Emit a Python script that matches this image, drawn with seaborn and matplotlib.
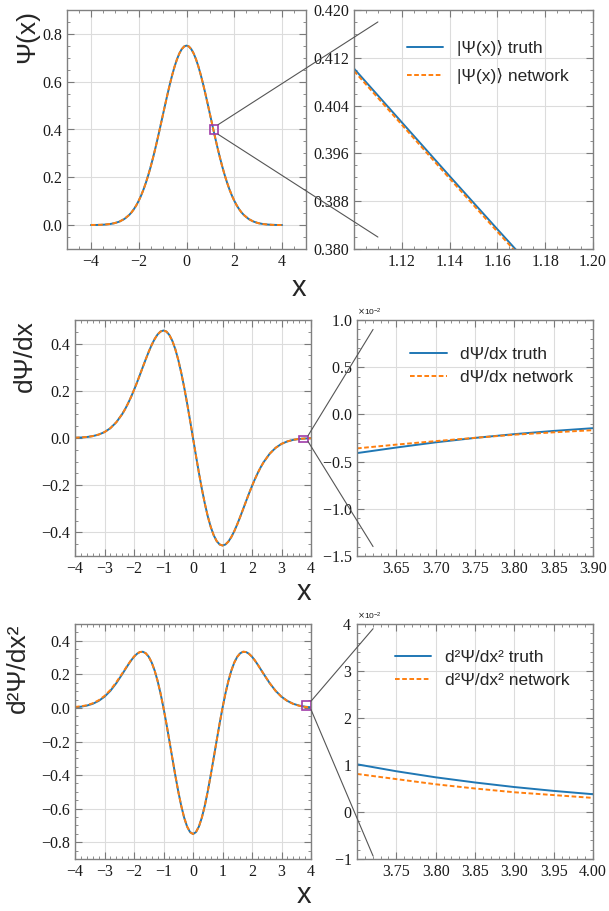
import matplotlib
matplotlib.use("Agg")
import matplotlib.pyplot as plt
from matplotlib.patches import Rectangle, ConnectionPatch
from matplotlib.ticker import MultipleLocator, FixedLocator, ScalarFormatter, FormatStrFormatter
import seaborn as sns

# ── full-range curves ────────────────────────────────────────────────────
x_full = [-4.0, -3.8, -3.6, -3.4, -3.2, -3.0, -2.8, -2.6,
          -2.4, -2.3, -2.2, -2.1, -2.0, -1.9, -1.8, -1.7, -1.6, -1.5, -1.4, -1.3,
          -1.2, -1.1, -1.0, -0.9, -0.8, -0.7, -0.6, -0.5, -0.4, -0.3, -0.2, -0.1,
          0.0,
          0.1, 0.2, 0.3, 0.4, 0.5, 0.6, 0.7, 0.8, 0.9, 1.0, 1.1, 1.2,
          1.3, 1.4, 1.5, 1.6, 1.7, 1.8, 1.9, 2.0, 2.1, 2.2, 2.3, 2.4,
          2.6, 2.8, 3.0, 3.2, 3.4, 3.6, 3.8, 4.0]

psi_truth = [0.0003, 0.0005, 0.0011, 0.0023, 0.0045, 0.0083, 0.0149, 0.0256,
             0.0422, 0.0533, 0.0668, 0.0828, 0.1017, 0.1235, 0.1486, 0.1771, 0.2088, 0.2438, 0.2819, 0.3226,
             0.3657, 0.4102, 0.4556, 0.5010, 0.5454, 0.5879, 0.6274, 0.6629, 0.6933, 0.7181, 0.7362, 0.7474,
             0.7511,
             0.7474, 0.7362, 0.7181, 0.6933, 0.6629, 0.6274, 0.5879, 0.5454, 0.5010, 0.4556, 0.4102, 0.3657,
             0.3226, 0.2819, 0.2438, 0.2088, 0.1771, 0.1486, 0.1235, 0.1017, 0.0828, 0.0668, 0.0533, 0.0422,
             0.0256, 0.0149, 0.0083, 0.0045, 0.0023, 0.0011, 0.0005, 0.0003]
psi_network = [0.0006, 0.0008, 0.0013, 0.0025, 0.0047, 0.0085, 0.0150, 0.0257,
               0.0423, 0.0533, 0.0668, 0.0828, 0.1017, 0.1235, 0.1486, 0.1771, 0.2088, 0.2438, 0.2819, 0.3226,
               0.3657, 0.4102, 0.4555, 0.5009, 0.5453, 0.5878, 0.6273, 0.6628, 0.6932, 0.7180, 0.7361, 0.7473,
               0.7510,
               0.7473, 0.7361, 0.7180, 0.6932, 0.6628, 0.6273, 0.5878, 0.5453, 0.5008, 0.4553, 0.4098, 0.3653,
               0.3223, 0.2816, 0.2436, 0.2086, 0.1770, 0.1485, 0.1234, 0.1016, 0.0827, 0.0667, 0.0532, 0.0421,
               0.0255, 0.0148, 0.0082, 0.0044, 0.0022, 0.0010, 0.0004, 0.0002]

dpsi_truth = [0.0010, 0.0021, 0.0041, 0.0079, 0.0144, 0.0249, 0.0417, 0.0666,
              0.1013, 0.1226, 0.1470, 0.1739, 0.2034, 0.2347, 0.2675, 0.3011, 0.3341, 0.3657, 0.3947, 0.4194,
              0.4388, 0.4512, 0.4556, 0.4509, 0.4363, 0.4115, 0.3764, 0.3315, 0.2773, 0.2154, 0.1472, 0.0747,
              0.0,
              -0.0747, -0.1472, -0.2154, -0.2773, -0.3315, -0.3764, -0.4115, -0.4363, -0.4509, -0.4556, -0.4512, -0.4388,
              -0.4194, -0.3947, -0.3657, -0.3341, -0.3011, -0.2675, -0.2347, -0.2034, -0.1739, -0.1470, -0.1226, -0.1013,
              -0.0666, -0.0417, -0.0249, -0.0144, -0.0079, -0.0041, -0.0021, -0.0010]
dpsi_network = [0.0013, 0.0024, 0.0043, 0.0080, 0.0145, 0.0250, 0.0418, 0.0667,
                0.1013, 0.1226, 0.1470, 0.1739, 0.2034, 0.2347, 0.2675, 0.3011, 0.3341, 0.3657, 0.3947, 0.4194,
                0.4388, 0.4512, 0.4556, 0.4509, 0.4363, 0.4115, 0.3764, 0.3315, 0.2773, 0.2154, 0.1472, 0.0747,
                0.0,
                -0.0747, -0.1472, -0.2154, -0.2773, -0.3315, -0.3764, -0.4115, -0.4363, -0.4509, -0.4556, -0.4512, -0.4388,
                -0.4194, -0.3947, -0.3657, -0.3341, -0.3011, -0.2675, -0.2347, -0.2034, -0.1739, -0.1470, -0.1226, -0.1013,
                -0.0666, -0.0417, -0.0249, -0.0143, -0.0078, -0.0036, -0.0022, -0.0012]

d2psi_truth = [0.0038, 0.0074, 0.0138, 0.0245, 0.0416, 0.0667, 0.1019, 0.1475,
               0.2009, 0.2287, 0.2565, 0.2823, 0.3051, 0.3223, 0.3329, 0.3347, 0.3257, 0.3048, 0.2706, 0.2226,
               0.1609, 0.0861, 0.0, -0.0952, -0.1963, -0.2998, -0.4015, -0.4972, -0.5824, -0.6535, -0.7068, -0.7399,
               -0.7511,
               -0.7399, -0.7068, -0.6535, -0.5824, -0.4972, -0.4015, -0.2998, -0.1963, -0.0952, 0.0, 0.0861, 0.1609,
               0.2226, 0.2706, 0.3048, 0.3257, 0.3347, 0.3329, 0.3223, 0.3051, 0.2823, 0.2565, 0.2287, 0.2009,
               0.1475, 0.1019, 0.0667, 0.0416, 0.0245, 0.0138, 0.0074, 0.0038]
d2psi_network = [0.0060, 0.0095, 0.0160, 0.0275, 0.0455, 0.0715, 0.1070, 0.1530,
                 0.2055, 0.2320, 0.2590, 0.2840, 0.3062, 0.3230, 0.3333, 0.3347, 0.3257, 0.3048, 0.2706, 0.2226,
                 0.1609, 0.0861, 0.0, -0.0952, -0.1963, -0.2998, -0.4015, -0.4972, -0.5824, -0.6535, -0.7068, -0.7399,
                 -0.7511,
                 -0.7399, -0.7068, -0.6535, -0.5824, -0.4972, -0.4015, -0.2998, -0.1963, -0.0952, 0.0, 0.0861, 0.1609,
                 0.2226, 0.2706, 0.3048, 0.3257, 0.3347, 0.3329, 0.3223, 0.3051, 0.2823, 0.2565, 0.2287, 0.2009,
                 0.1475, 0.1015, 0.0660, 0.0410, 0.0238, 0.0128, 0.0060, 0.0030]

# ── zoomed curves ────────────────────────────────────────────────────────
psi_zoom_x = [1.10, 1.12, 1.14, 1.16, 1.17]
psi_zoom_truth = [0.4102, 0.4012, 0.3922, 0.3833, 0.3789]
psi_zoom_network = [0.4098, 0.4008, 0.3918, 0.3829, 0.3785]

dpsi_zoom_x = [3.60, 3.65, 3.70, 3.75, 3.80, 3.85, 3.90]
dpsi_zoom_truth = [-0.00410, -0.00351, -0.00296, -0.00249, -0.00209, -0.00175, -0.00146]
dpsi_zoom_network = [-0.00360, -0.00320, -0.00283, -0.00248, -0.00215, -0.00190, -0.00167]

d2psi_zoom_x = [3.70, 3.75, 3.80, 3.85, 3.90, 3.95, 4.00]
d2psi_zoom_truth = [0.01015, 0.00867, 0.00738, 0.00628, 0.00531, 0.00449, 0.00378]
d2psi_zoom_network = [0.0081, 0.0070, 0.0059, 0.0050, 0.0042, 0.0036, 0.0030]

# zoom windows: (xmin, xmax, ymin, ymax)
psi_window = (1.10, 1.20, 0.380, 0.420)
dpsi_window = (3.60, 3.90, -0.015, 0.010)
d2psi_window = (3.70, 4.00, -0.010, 0.040)

psi_zoom_xticks = [1.12, 1.14, 1.16, 1.18, 1.20]
psi_zoom_yticks = [0.380, 0.388, 0.396, 0.404, 0.412, 0.420]
dpsi_zoom_xticks = [3.65, 3.70, 3.75, 3.80, 3.85, 3.90]
d2psi_zoom_xticks = [3.75, 3.80, 3.85, 3.90, 3.95, 4.00]

TRUTH_COLOR = "#1f77b4"
NET_COLOR = "#ff7f0e"
BOX_COLOR = "#a03ca8"
DASH = (0, (2.4, 1.3))

sns.set_theme(style="ticks")
plt.rcParams["font.family"] = ["Liberation Sans", "DejaVu Sans"]
plt.rcParams["axes.unicode_minus"] = True

W, H = 609, 911
fig = plt.figure(figsize=(W / 100, H / 100), dpi=100)


def px_axes(left, top, right, bottom):
    return fig.add_axes([left / W, 1 - bottom / H, (right - left) / W, (bottom - top) / H])


def locator(v):
    return FixedLocator(v) if isinstance(v, list) else MultipleLocator(v)


def style(ax, xmaj, xmin, ymaj, ymin):
    ax.xaxis.set_major_locator(locator(xmaj))
    ax.xaxis.set_minor_locator(MultipleLocator(xmin))
    ax.yaxis.set_major_locator(locator(ymaj))
    ax.yaxis.set_minor_locator(MultipleLocator(ymin))
    ax.tick_params(which="both", direction="in", top=True, right=True,
                   color="#7a7a7a", labelcolor="#1a1a1a", labelsize=11.5)
    ax.tick_params(which="major", length=5, width=0.8)
    ax.tick_params(which="minor", length=2.5, width=0.6)
    ax.grid(True, which="major", color="#dcdcdc", linewidth=0.8)
    ax.grid(False, which="minor")
    for sp in ax.spines.values():
        sp.set_color("#808080")
        sp.set_linewidth(1.0)


def serif_ticks(ax):
    for lbl in ax.get_xticklabels() + ax.get_yticklabels():
        lbl.set_fontfamily("Liberation Serif")


def draw_pair(ax, x, truth, net, lab_truth=None, lab_net=None):
    sns.lineplot(x=x, y=truth, ax=ax, color=TRUTH_COLOR, lw=1.4, label=lab_truth, legend=False, sort=False)
    sns.lineplot(x=x, y=net, ax=ax, color=NET_COLOR, lw=1.4, linestyle=DASH, label=lab_net, legend=False, sort=False)


def connect(ax_l, ax_r, box, xfrac, ytop, ybot):
    x0, x1, y0, y1 = box
    for (yy, yb) in ((y1, ytop), (y0, ybot)):
        con = ConnectionPatch(xyA=(x1, yy), coordsA=ax_l.transData,
                              xyB=(xfrac, yb), coordsB=ax_r.transAxes,
                              color="#555555", lw=0.8)
        fig.add_artist(con)


rows = [
    dict(left=(67, 10, 306, 249), right=(354, 10, 593, 249),
         truth=psi_truth, net=psi_network,
         zx=psi_zoom_x, zt=psi_zoom_truth, zn=psi_zoom_network,
         window=psi_window, box=(0.98, 1.32, 0.380, 0.420),
         xlim=(-5, 5), ylim=(-0.1, 0.9), lt=(2, 0.5, 0.2, 0.05),
         zt_ticks=(psi_zoom_xticks, 0.005, psi_zoom_yticks, 0.002),
         ylabel="Ψ(x)", ylx=-0.115, xly=-0.105,
         leg=("|Ψ(x)⟩ truth", "|Ψ(x)⟩ network"), leg_at=(0.22, 0.875), lsp=0.7,
         con=(0.10, 0.95, 0.05), sci=False),
    dict(left=(75, 320, 311, 556), right=(357, 320, 593, 556),
         truth=dpsi_truth, net=dpsi_network,
         zx=dpsi_zoom_x, zt=dpsi_zoom_truth, zn=dpsi_zoom_network,
         window=dpsi_window, box=dpsi_window,
         xlim=(-4, 4), ylim=(-0.5, 0.5), lt=(1, 0.2, 0.2, 0.05),
         zt_ticks=(dpsi_zoom_xticks, 0.01, 0.005, 0.001),
         ylabel="dΨ/dx", ylx=-0.16, xly=-0.095,
         leg=("dΨ/dx truth", "dΨ/dx network"), leg_at=(0.225, 0.887), lsp=0.45,
         con=(0.068, 0.96, 0.04), sci=True),
    dict(left=(75, 624, 311, 859), right=(357, 624, 593, 859),
         truth=d2psi_truth, net=d2psi_network,
         zx=d2psi_zoom_x, zt=d2psi_zoom_truth, zn=d2psi_zoom_network,
         window=d2psi_window, box=d2psi_window,
         xlim=(-4, 4), ylim=(-0.9, 0.5), lt=(1, 0.2, 0.2, 0.05),
         zt_ticks=(d2psi_zoom_xticks, 0.01, 0.01, 0.002),
         ylabel="d²Ψ/dx²", ylx=-0.19, xly=-0.095,
         leg=("d²Ψ/dx² truth", "d²Ψ/dx² network"), leg_at=(0.16, 0.888), lsp=0.45,
         con=(0.068, 0.98, 0.013), sci=True),
]

for r in rows:
    ax_l = px_axes(*r["left"])
    ax_r = px_axes(*r["right"])

    # full view
    draw_pair(ax_l, x_full, r["truth"], r["net"])
    ax_l.set_xlim(*r["xlim"])
    ax_l.set_ylim(*r["ylim"])
    style(ax_l, *r["lt"])
    serif_ticks(ax_l)
    bx0, bx1, by0, by1 = r["box"]
    ax_l.add_patch(Rectangle((bx0, by0), bx1 - bx0, by1 - by0, fill=False,
                             edgecolor=BOX_COLOR, lw=1.2, zorder=6))
    ax_l.set_ylabel(r["ylabel"], fontsize=19, loc="top")
    ax_l.yaxis.set_label_coords(r["ylx"], 1.0)
    ax_l.set_xlabel("x", fontsize=21, loc="right")
    ax_l.xaxis.set_label_coords(1.0, r["xly"])

    # zoomed view
    draw_pair(ax_r, r["zx"], r["zt"], r["zn"], *r["leg"])
    wx0, wx1, wy0, wy1 = r["window"]
    ax_r.set_xlim(wx0, wx1)
    ax_r.set_ylim(wy0, wy1)
    style(ax_r, *r["zt_ticks"])
    if r["sci"]:
        fmt = ScalarFormatter(useMathText=True)
        fmt.set_powerlimits((-2, -2))
        ax_r.yaxis.set_major_formatter(fmt)
        ax_r.yaxis.get_offset_text().set_fontsize(6)
    else:
        ax_r.yaxis.set_major_formatter(FormatStrFormatter("%.3f"))
    ax_r.xaxis.set_major_formatter(FormatStrFormatter("%.2f"))
    serif_ticks(ax_r)
    ax_r.legend(loc="upper left", bbox_to_anchor=r["leg_at"], frameon=False,
                fontsize=12.5, handlelength=2.1, handletextpad=0.8,
                borderpad=0, borderaxespad=0, labelspacing=r["lsp"])

    connect(ax_l, ax_r, r["box"], *r["con"])

fig.savefig("out.png", dpi=100)
